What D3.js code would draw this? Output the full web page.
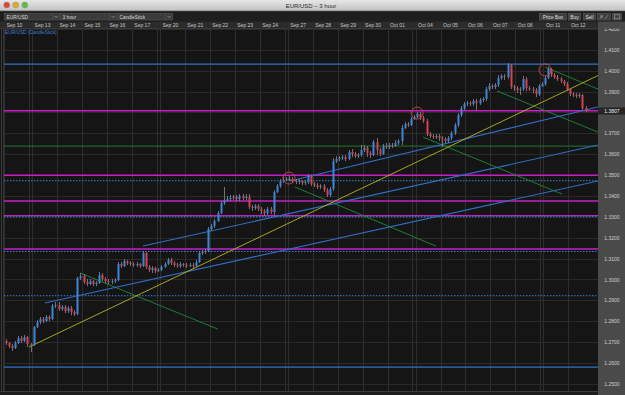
<!DOCTYPE html>
<html>
<head>
<meta charset="utf-8">
<script src="https://cdn.jsdelivr.net/npm/d3@7"></script>
<style>
html, body { margin: 0; padding: 0; background: #151515; }
svg { display: block; font-family: "Liberation Sans", Arial, sans-serif; }
</style>
</head>
<body>
<div id="chart"></div>
<script>
// trading days shown in the header, and the fridays followed by a weekend candle
const days = ["Sep 10", "Sep 13", "Sep 14", "Sep 15", "Sep 16", "Sep 17", "Sep 20", "Sep 21", "Sep 22", "Sep 23", "Sep 24",
  "Sep 27", "Sep 28", "Sep 29", "Sep 30", "Oct 01", "Oct 04", "Oct 05", "Oct 06", "Oct 07", "Oct 08", "Oct 11", "Oct 12"];
const weekendAfter = ["Sep 10", "Sep 17", "Sep 24", "Oct 01", "Oct 08"];

// 3 hour candles, open = previous close
const firstOpen = 1.2705;
const closes = [
  1.2695, 1.2681, 1.2671, 1.2695, 1.2719, 1.2705, 1.2724, 1.2690, 1.2686,
  1.2772, 1.2796, 1.2810, 1.2801, 1.2820, 1.2810, 1.2873, 1.2877,
  1.2858, 1.2868, 1.2849, 1.2863, 1.2844, 1.2834, 1.3007, 1.3016,
  1.2988, 1.2978, 1.2992, 1.2978, 1.2983, 1.3021, 1.3002, 1.2992,
  1.2988, 1.2992, 1.2997, 1.3074, 1.3064, 1.3088, 1.3079, 1.3074,
  1.3069, 1.3074, 1.3064, 1.3127, 1.3060, 1.3045, 1.3055, 1.3040, 1.3045,
  1.3060, 1.3074, 1.3093, 1.3079, 1.3069, 1.3064, 1.3074, 1.3069,
  1.3064, 1.3069, 1.3064, 1.3083, 1.3127, 1.3131, 1.3136, 1.3242,
  1.3256, 1.3280, 1.3318, 1.3366, 1.3381, 1.3385, 1.3390, 1.3395,
  1.3385, 1.3400, 1.3390, 1.3395, 1.3347, 1.3342, 1.3352, 1.3337,
  1.3328, 1.3318, 1.3337, 1.3323, 1.3419, 1.3448, 1.3472, 1.3476, 1.3481,
  1.3481, 1.3472, 1.3467, 1.3472, 1.3462, 1.3467, 1.3496, 1.3457,
  1.3452, 1.3443, 1.3448, 1.3428, 1.3405, 1.3433, 1.3567, 1.3577,
  1.3582, 1.3587, 1.3577, 1.3611, 1.3601, 1.3591, 1.3596, 1.3620,
  1.3630, 1.3606, 1.3596, 1.3658, 1.3620, 1.3601, 1.3639, 1.3635,
  1.3644, 1.3639, 1.3654, 1.3663, 1.3726, 1.3745, 1.3740, 1.3769, 1.3778,
  1.3793, 1.3774, 1.3759, 1.3697, 1.3687, 1.3682, 1.3687, 1.3678,
  1.3673, 1.3663, 1.3678, 1.3702, 1.3740, 1.3788, 1.3821, 1.3841,
  1.3845, 1.3841, 1.3855, 1.3845, 1.3860, 1.3865, 1.3912, 1.3927,
  1.3922, 1.3932, 1.3965, 1.3975, 1.3970, 1.4028, 1.3922, 1.3917,
  1.3908, 1.3912, 1.3960, 1.3917, 1.3912, 1.3908, 1.3888, 1.3927, 1.3936,
  1.3965, 1.4008, 1.3980, 1.3970, 1.3960, 1.3951, 1.3936, 1.3912,
  1.3888, 1.3884, 1.3879, 1.3884, 1.3821, 1.3807
];
const highs = [
  1.2714, 1.2700, 1.2690, 1.2705, 1.2729, 1.2729, 1.2734, 1.2729, 1.2695,
  1.2777, 1.2805, 1.2820, 1.2820, 1.2829, 1.2829, 1.2882, 1.2892,
  1.2892, 1.2877, 1.2877, 1.2873, 1.2873, 1.2853, 1.3012, 1.3031,
  1.3026, 1.3002, 1.3002, 1.2997, 1.2992, 1.3036, 1.3031, 1.3012,
  1.3002, 1.3002, 1.3007, 1.3083, 1.3083, 1.3098, 1.3093, 1.3088,
  1.3083, 1.3083, 1.3079, 1.3136, 1.3131, 1.3069, 1.3064, 1.3060, 1.3055,
  1.3069, 1.3083, 1.3103, 1.3103, 1.3088, 1.3079, 1.3083, 1.3079,
  1.3079, 1.3079, 1.3079, 1.3093, 1.3136, 1.3141, 1.3146, 1.3251,
  1.3266, 1.3290, 1.3328, 1.3376, 1.3443, 1.3400, 1.3405, 1.3405,
  1.3405, 1.3409, 1.3409, 1.3409, 1.3409, 1.3357, 1.3361, 1.3361,
  1.3347, 1.3337, 1.3347, 1.3347, 1.3428, 1.3457, 1.3481, 1.3491, 1.3491,
  1.3496, 1.3491, 1.3481, 1.3481, 1.3476, 1.3476, 1.3505, 1.3500,
  1.3467, 1.3462, 1.3457, 1.3457, 1.3438, 1.3443, 1.3582, 1.3591,
  1.3591, 1.3596, 1.3596, 1.3620, 1.3625, 1.3611, 1.3606, 1.3644,
  1.3644, 1.3639, 1.3615, 1.3668, 1.3678, 1.3630, 1.3649, 1.3654,
  1.3654, 1.3654, 1.3668, 1.3673, 1.3740, 1.3754, 1.3754, 1.3778, 1.3788,
  1.3802, 1.3802, 1.3783, 1.3769, 1.3706, 1.3697, 1.3697, 1.3697,
  1.3687, 1.3682, 1.3687, 1.3711, 1.3750, 1.3797, 1.3831, 1.3850,
  1.3855, 1.3855, 1.3865, 1.3865, 1.3869, 1.3874, 1.3922, 1.3941,
  1.3936, 1.3941, 1.3980, 1.3984, 1.3984, 1.4037, 1.4032, 1.3932,
  1.3927, 1.3922, 1.3975, 1.3970, 1.3927, 1.3922, 1.3917, 1.3936, 1.3946,
  1.3975, 1.4018, 1.4013, 1.3989, 1.3980, 1.3970, 1.3956, 1.3946,
  1.3917, 1.3898, 1.3893, 1.3893, 1.3888, 1.3831
];
const lows = [
  1.2686, 1.2671, 1.2657, 1.2667, 1.2690, 1.2695, 1.2700, 1.2676, 1.2652,
  1.2681, 1.2767, 1.2786, 1.2791, 1.2796, 1.2801, 1.2805, 1.2863,
  1.2849, 1.2849, 1.2839, 1.2839, 1.2829, 1.2825, 1.2829, 1.2997,
  1.2978, 1.2968, 1.2973, 1.2968, 1.2968, 1.2978, 1.2992, 1.2983,
  1.2978, 1.2978, 1.2983, 1.2992, 1.3055, 1.3060, 1.3069, 1.3064,
  1.3060, 1.3060, 1.3055, 1.3060, 1.3050, 1.3036, 1.3031, 1.3031, 1.3036,
  1.3040, 1.3055, 1.3069, 1.3069, 1.3060, 1.3055, 1.3055, 1.3060,
  1.3055, 1.3060, 1.3055, 1.3060, 1.3079, 1.3117, 1.3122, 1.3131,
  1.3232, 1.3246, 1.3275, 1.3313, 1.3357, 1.3371, 1.3376, 1.3381,
  1.3376, 1.3376, 1.3381, 1.3381, 1.3337, 1.3328, 1.3333, 1.3328,
  1.3313, 1.3304, 1.3309, 1.3313, 1.3309, 1.3414, 1.3438, 1.3462, 1.3472,
  1.3472, 1.3462, 1.3457, 1.3457, 1.3452, 1.3452, 1.3457, 1.3448,
  1.3443, 1.3433, 1.3433, 1.3419, 1.3395, 1.3395, 1.3424, 1.3558,
  1.3567, 1.3572, 1.3567, 1.3572, 1.3587, 1.3582, 1.3582, 1.3587,
  1.3611, 1.3587, 1.3582, 1.3591, 1.3596, 1.3591, 1.3596, 1.3625,
  1.3625, 1.3630, 1.3635, 1.3644, 1.3644, 1.3721, 1.3730, 1.3735, 1.3764,
  1.3774, 1.3764, 1.3750, 1.3687, 1.3678, 1.3673, 1.3673, 1.3663,
  1.3635, 1.3654, 1.3654, 1.3668, 1.3692, 1.3730, 1.3778, 1.3812,
  1.3831, 1.3831, 1.3831, 1.3812, 1.3836, 1.3850, 1.3855, 1.3903,
  1.3912, 1.3912, 1.3922, 1.3956, 1.3956, 1.3960, 1.3912, 1.3903,
  1.3893, 1.3884, 1.3903, 1.3903, 1.3903, 1.3893, 1.3874, 1.3879, 1.3922,
  1.3927, 1.3960, 1.3970, 1.3960, 1.3951, 1.3941, 1.3927, 1.3903,
  1.3879, 1.3874, 1.3869, 1.3869, 1.3812, 1.3802
];

const priceTicks = [1.42, 1.41, 1.40, 1.39, 1.37, 1.36, 1.35, 1.34, 1.33, 1.32, 1.31, 1.30, 1.29, 1.28, 1.27, 1.26, 1.25];
const gridTicks = [1.42, 1.41, 1.40, 1.39, 1.38, 1.37, 1.36, 1.35, 1.34, 1.33, 1.32, 1.31, 1.30, 1.29, 1.28, 1.27, 1.26, 1.25];
const lastPrice = 1.3807;

// horizontal levels drawn on the chart
const magentaLevels = [1.3808, 1.3499, 1.3376, 1.3306, 1.3146];
const blueLevels = [1.4032, 1.2580];
const dottedLevels = [1.3473, 1.3301, 1.3134, 1.2922];
const greenLevels = [1.3639];

// trend lines: [slot, price, slot, price]
const yellowLines = [[8.0, 1.2676, 190.5, 1.3977]];
const blueLines = [[91.7, 1.3472, 190.5, 1.3826], [44.6, 1.3160, 190.5, 1.3644], [13.1, 1.2887, 190.5, 1.3472]];
const greenLines = [[24.4, 1.3031, 68.6, 1.2762], [93.3, 1.3443, 138.5, 1.3160], [134.4, 1.3682, 179.0, 1.3409],
  [158.1, 1.3903, 190.5, 1.3706], [173.5, 1.4018, 190.5, 1.3912]];
const circled = [[91.4, 1.3486], [132.5, 1.3797], [173.5, 1.4004]];

var W = 625, H = 395;
var pLeft = 4, pRight = 598, pTop = 28.5, pBottom = 391;

var svg = d3.select("#chart").append("svg")
  .attr("width", W)
  .attr("height", H);

var x = d3.scaleLinear().domain([0, 190.5]).range([pLeft, pRight]);
var y = d3.scaleLinear().domain([1.42, 1.25]).range([29, 383.8]);

// slot where each day starts
var dayStart = [];
var slot = 0;
days.forEach(function (d) {
  dayStart.push(slot);
  slot += 8;
  if (weekendAfter.indexOf(d) >= 0) slot += 1;
});
var weekendSlots = weekendAfter.map(function (d) { return dayStart[days.indexOf(d)] + 8; });

var defs = svg.append("defs");
var g1 = defs.append("linearGradient").attr("id", "titlebar").attr("x1", 0).attr("x2", 0).attr("y1", 0).attr("y2", 1);
g1.append("stop").attr("offset", "0%").attr("stop-color", "#e6e6e6");
g1.append("stop").attr("offset", "100%").attr("stop-color", "#c2c2c2");
defs.append("clipPath").attr("id", "plot").append("rect")
  .attr("x", pLeft).attr("y", pTop).attr("width", pRight - pLeft).attr("height", pBottom - pTop);
defs.append("clipPath").attr("id", "axisclip").append("rect")
  .attr("x", 0).attr("y", pTop).attr("width", W - pRight).attr("height", H - pTop);

// window title bar
svg.append("rect").attr("width", W).attr("height", 11).attr("fill", "url(#titlebar)");
svg.append("line").attr("x1", 0).attr("x2", W).attr("y1", 11).attr("y2", 11).attr("stroke", "#777");
[["#e0443e", 6.7], ["#e0a92a", 15.7], ["#5cbf3a", 24.8]].forEach(function (c) {
  svg.append("circle").attr("cx", c[1]).attr("cy", 5).attr("r", 3).attr("fill", c[0]).attr("stroke", "#888").attr("stroke-width", 0.4);
});
svg.append("text").attr("x", 311).attr("y", 7.8).attr("text-anchor", "middle")
  .attr("font-size", 6).attr("fill", "#2a2a2a").text("EUR/USD – 3 hour");

// toolbar
svg.append("rect").attr("y", 11.5).attr("width", W).attr("height", 10).attr("fill", "#1e1e1e");
[["EUR/USD", 4, 55], ["3 hour", 60, 56], ["CandleStick", 117, 55]].forEach(function (b) {
  svg.append("rect").attr("x", b[1] + 0.5).attr("y", 13.5).attr("width", b[2]).attr("height", 6.5)
    .attr("fill", "#3b3b3b").attr("stroke", "#575757").attr("stroke-width", 0.6);
  svg.append("line").attr("x1", b[1] + b[2] - 6.5).attr("x2", b[1] + b[2] - 6.5).attr("y1", 13.5).attr("y2", 20)
    .attr("stroke", "#575757").attr("stroke-width", 0.6);
  svg.append("path")
    .attr("d", "M" + (b[1] + b[2] - 4.5) + ",16 l1.6,1.6 l1.6,-1.6")
    .attr("fill", "none").attr("stroke", "#bbb").attr("stroke-width", 0.6);
  svg.append("text").attr("x", b[1] + 2.5).attr("y", 18.6).attr("font-size", 4.8).attr("fill", "#dcdcdc").text(b[0]);
});
[["Price Box", 539, 27], ["Buy", 568, 12], ["Sell", 583, 12]].forEach(function (b) {
  svg.append("rect").attr("x", b[1] + 0.5).attr("y", 13.5).attr("width", b[2]).attr("height", 6.5)
    .attr("fill", "#3e3e3e").attr("stroke", "#5e5e5e").attr("stroke-width", 0.6);
  svg.append("text").attr("x", b[1] + 0.5 + b[2] / 2).attr("y", 18.6).attr("text-anchor", "middle")
    .attr("font-size", 4.8).attr("fill", "#e0e0e0").text(b[0]);
});
svg.append("rect").attr("x", 597.5).attr("y", 13.5).attr("width", 13).attr("height", 6.5)
  .attr("fill", "#3e3e3e").attr("stroke", "#5e5e5e").attr("stroke-width", 0.6);
svg.append("path").attr("d", "M600,19 l1,-4 l1,3 l1,-3 M605,19 l3,-4")
  .attr("fill", "none").attr("stroke", "#999").attr("stroke-width", 0.6);
svg.append("rect").attr("x", 612.5).attr("y", 13.5).attr("width", 9).attr("height", 6.5)
  .attr("fill", "#3e3e3e").attr("stroke", "#5e5e5e").attr("stroke-width", 0.6);
svg.append("rect").attr("x", 614.5).attr("y", 14.8).attr("width", 5).attr("height", 4)
  .attr("fill", "none").attr("stroke", "#aaa").attr("stroke-width", 0.6);

// plot background and right axis panel
svg.append("rect").attr("x", 0).attr("y", pTop).attr("width", pRight).attr("height", H - pTop).attr("fill", "#151515");
svg.append("rect").attr("x", pRight).attr("y", 21.5).attr("width", W - pRight).attr("height", H - 21.5).attr("fill", "#4a4a4a");

// date header
svg.append("rect").attr("x", 0).attr("y", 21.5).attr("width", pRight).attr("height", 7).attr("fill", "#2b2b2b");
svg.append("line").attr("x1", 0).attr("x2", pRight).attr("y1", pTop).attr("y2", pTop).attr("stroke", "#3a3a3a");

var grid = svg.append("g");
grid.selectAll(".hgrid").data(gridTicks).enter().append("line")
  .attr("x1", pLeft).attr("x2", pRight)
  .attr("y1", function (d) { return Math.round(y(d)) + 0.5; })
  .attr("y2", function (d) { return Math.round(y(d)) + 0.5; })
  .attr("stroke", "#2a2a2a").attr("stroke-width", 1);
grid.selectAll(".vgrid").data(dayStart.concat(weekendSlots)).enter().append("line")
  .attr("x1", function (d) { return Math.round(x(d)) + 0.5; })
  .attr("x2", function (d) { return Math.round(x(d)) + 0.5; })
  .attr("y1", 21.5).attr("y2", pBottom)
  .attr("stroke", "#2e2e2e").attr("stroke-width", 1);

svg.append("g").selectAll("text").data(days).enter().append("text")
  .attr("x", function (d, i) { return x(dayStart[i]) + 2.5; })
  .attr("y", 27)
  .attr("font-size", 5)
  .attr("fill", "#c8c8c8")
  .text(function (d) { return d; });

// left and bottom frame
svg.append("line").attr("x1", 1.5).attr("x2", 1.5).attr("y1", pTop).attr("y2", H).attr("stroke", "#3a3a3a");
svg.append("line").attr("x1", 3.5).attr("x2", 3.5).attr("y1", pTop).attr("y2", pBottom).attr("stroke", "#333");
svg.append("rect").attr("x", 0).attr("y", pBottom).attr("width", pRight).attr("height", H - pBottom).attr("fill", "#1d1d1d");
svg.append("line").attr("x1", 0).attr("x2", pRight).attr("y1", pBottom + 0.5).attr("y2", pBottom + 0.5).attr("stroke", "#3c3c3c");

var plot = svg.append("g").attr("clip-path", "url(#plot)");

function hLines(levels, color, width, dash) {
  plot.append("g").selectAll("line").data(levels).enter().append("line")
    .attr("x1", pLeft).attr("x2", pRight)
    .attr("y1", function (d) { return y(d); })
    .attr("y2", function (d) { return y(d); })
    .attr("stroke", color).attr("stroke-width", width)
    .attr("stroke-dasharray", dash);
}
hLines(greenLevels, "#1f7a35", 1, null);
hLines(blueLevels, "#2e72c4", 1.3, null);
hLines(magentaLevels, "#c61fc6", 1.4, null);
hLines(dottedLevels, "#3584d6", 1, "1.5,1.5");

function trend(lines, color, width) {
  plot.append("g").selectAll("line").data(lines).enter().append("line")
    .attr("x1", function (d) { return x(d[0]); })
    .attr("y1", function (d) { return y(d[1]); })
    .attr("x2", function (d) { return x(d[2]); })
    .attr("y2", function (d) { return y(d[3]); })
    .attr("stroke", color).attr("stroke-width", width);
}
trend(greenLines, "#1d8a3a", 0.9);
trend(blueLines, "#2f6fc2", 1.1);
trend(yellowLines, "#b8b41e", 0.9);

// candles
var candles = closes.map(function (c, i) {
  return { i: i, o: i === 0 ? firstOpen : closes[i - 1], h: highs[i], l: lows[i], c: c };
});
var cg = plot.append("g");
cg.selectAll(".wick").data(candles).enter().append("line")
  .attr("x1", function (d) { return Math.round(x(d.i + 0.5)) + 0.5; })
  .attr("x2", function (d) { return Math.round(x(d.i + 0.5)) + 0.5; })
  .attr("y1", function (d) { return y(d.h); })
  .attr("y2", function (d) { return y(d.l); })
  .attr("stroke", "#8d8d8d").attr("stroke-width", 0.8);
cg.selectAll(".body").data(candles).enter().append("rect")
  .attr("x", function (d) { return Math.round(x(d.i + 0.5)) - 0.5; })
  .attr("width", 2)
  .attr("y", function (d) { return y(Math.max(d.o, d.c)); })
  .attr("height", function (d) { return Math.max(1, Math.abs(y(d.o) - y(d.c))); })
  .attr("fill", function (d) { return d.c > d.o ? "#3b86dc" : (d.c < d.o ? "#d4424f" : "#9a9a9a"); });

plot.append("g").selectAll("circle").data(circled).enter().append("circle")
  .attr("cx", function (d) { return x(d[0]); })
  .attr("cy", function (d) { return y(d[1]); })
  .attr("r", 6)
  .attr("fill", "none").attr("stroke", "#c84a4a").attr("stroke-width", 0.9);

svg.append("text").attr("x", 5).attr("y", 33.5).attr("font-size", 4.8).attr("fill", "#3b80d6")
  .text("EUR/USD (CandleStick)");

// price axis
var axisG = svg.append("g")
  .attr("transform", "translate(" + pRight + ",0)")
  .attr("clip-path", "url(#axisclip)")
  .call(d3.axisRight(y).tickValues(priceTicks).tickFormat(d3.format(".4f")).tickSize(0));
axisG.select(".domain").remove();
axisG.selectAll("text")
  .attr("x", 14).attr("text-anchor", "middle")
  .attr("font-size", 5).attr("font-family", "Liberation Sans, Arial, sans-serif")
  .attr("fill", "#d0d0d0");

svg.append("rect").attr("x", pRight).attr("y", y(lastPrice) - 3.6).attr("width", W - pRight).attr("height", 7.2).attr("fill", "#262626");
svg.append("text").attr("x", pRight + 14).attr("y", y(lastPrice) + 1.8).attr("text-anchor", "middle")
  .attr("font-size", 5).attr("fill", "#f0f0f0").text(d3.format(".4f")(lastPrice));
</script>
</body>
</html>
